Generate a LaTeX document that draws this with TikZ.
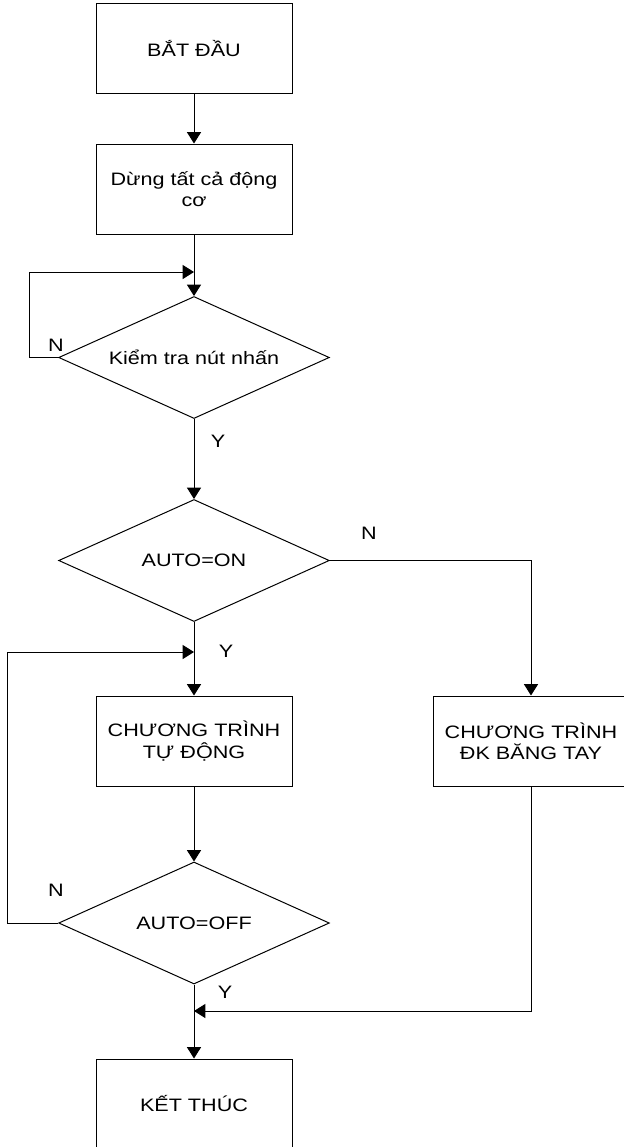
\documentclass[tikz,border=0pt]{standalone}
\usepackage{fontspec}
\setmainfont{Liberation Sans}[FakeStretch=1.2]
\usetikzlibrary{shapes.geometric,arrows.meta}
\begin{document}
\begin{tikzpicture}[x=0.75pt,y=-0.75pt,
  line width=0.75pt,
  every node/.style={font=\fontsize{13.5}{16}\selectfont},
  box/.style={draw, rectangle, minimum width=147pt, minimum height=67.5pt,
    inner sep=0pt, align=center},
  decision/.style={draw, diamond, minimum width=203pt, minimum height=91.5pt,
    inner sep=0pt, aspect=2.2},
  arr/.style={-{Triangle[width=10.5pt,length=8.5pt]}},
  lbl/.style={inner sep=0pt}]
\useasboundingbox (0,0) rectangle (624,1147);

% process boxes and decisions
\node[box] (start) at (194,48.5) {BẮT ĐẦU};
\node[box] (stop) at (194,189) {Dừng tất cả động\\cơ};
\node[decision] (check) at (194,357.5) {Kiểm tra nút nhấn};
\node[decision] (auto) at (194,560.5) {AUTO=ON};
\node[box] (autoprog) at (194,741) {CHƯƠNG TRÌNH\\TỰ ĐỘNG};
\node[box] (manual) at (531,741) {CHƯƠNG TRÌNH\\ĐK BĂNG TAY};
\node[decision] (autooff) at (194,923) {AUTO=OFF};
\node[box] (finish) at (194,1104) {KẾT THÚC};

% junction points where loops rejoin the main line
\coordinate (j1) at (194,272);
\coordinate (j2) at (194,652);
\coordinate (j3) at (194,1011);

% main flow
\draw[arr] (start) -- (stop);
\draw[arr] (stop) -- (check);
\draw[arr] (check.west) -- ++(-29,0) |- (j1);
\draw[arr] (check) -- (auto);
\draw[arr] (auto.east) -| (manual.north);
\draw[arr] (auto) -- (autoprog);
\draw[arr] (autoprog) -- (autooff);
\draw[arr] (autooff.west) -- ++(-51,0) |- (j2);
\draw[arr] (autooff) -- (finish);
\draw[arr] (manual.south) |- (j3);

% branch labels
\node[lbl] (n1) at (56,345) {N};
\node[lbl] (y1) at (218,441) {Y};
\node[lbl] (n2) at (369,533) {N};
\node[lbl] (y2) at (226,651) {Y};
\node[lbl] (n3) at (56,890) {N};
\node[lbl] (y3) at (225,992) {Y};
\end{tikzpicture}
\end{document}
